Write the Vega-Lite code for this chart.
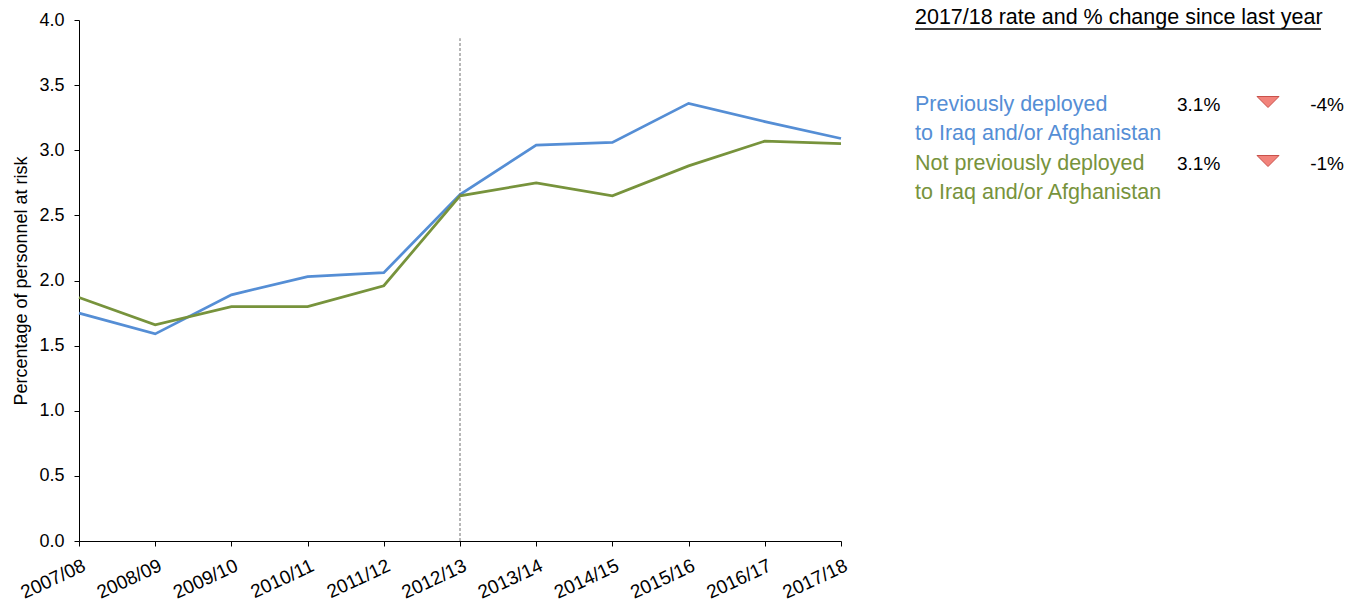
{
  "$schema": "https://vega.github.io/schema/vega-lite/v6.json",
  "background": "white",
  "padding": {"left": 12, "top": 7, "right": 5, "bottom": 5},
  "config": {
    "view": {"stroke": null},
    "font": "Liberation Sans",
    "concat": {"spacing": 63}
  },
  "datasets": {
    "series": [
      {"year": "2007/08", "group": "Previously deployed", "value": 1.75},
      {"year": "2008/09", "group": "Previously deployed", "value": 1.59},
      {"year": "2009/10", "group": "Previously deployed", "value": 1.89},
      {"year": "2010/11", "group": "Previously deployed", "value": 2.03},
      {"year": "2011/12", "group": "Previously deployed", "value": 2.06},
      {"year": "2012/13", "group": "Previously deployed", "value": 2.66},
      {"year": "2013/14", "group": "Previously deployed", "value": 3.04},
      {"year": "2014/15", "group": "Previously deployed", "value": 3.06},
      {"year": "2015/16", "group": "Previously deployed", "value": 3.36},
      {"year": "2016/17", "group": "Previously deployed", "value": 3.22},
      {"year": "2017/18", "group": "Previously deployed", "value": 3.09},
      {"year": "2007/08", "group": "Not previously deployed", "value": 1.87},
      {"year": "2008/09", "group": "Not previously deployed", "value": 1.66},
      {"year": "2009/10", "group": "Not previously deployed", "value": 1.80},
      {"year": "2010/11", "group": "Not previously deployed", "value": 1.80},
      {"year": "2011/12", "group": "Not previously deployed", "value": 1.96},
      {"year": "2012/13", "group": "Not previously deployed", "value": 2.65},
      {"year": "2013/14", "group": "Not previously deployed", "value": 2.75},
      {"year": "2014/15", "group": "Not previously deployed", "value": 2.65},
      {"year": "2015/16", "group": "Not previously deployed", "value": 2.88},
      {"year": "2016/17", "group": "Not previously deployed", "value": 3.07},
      {"year": "2017/18", "group": "Not previously deployed", "value": 3.05}
    ],
    "marker": [{"year": "2012/13", "lo": 0, "hi": 3.86}],
    "legend": [
      {"row": "r1", "group": "Previously deployed", "label": "Previously deployed\nto Iraq and/or Afghanistan", "rate": "3.1%", "change": "-4%"},
      {"row": "r2", "group": "Not previously deployed", "label": "Not previously deployed\nto Iraq and/or Afghanistan", "rate": "3.1%", "change": "-1%"}
    ]
  },
  "hconcat": [
    {
      "width": 762,
      "height": 521,
      "layer": [
        {
          "data": {"name": "series"},
          "mark": {"type": "line", "strokeWidth": 2.75},
          "encoding": {
            "x": {
              "field": "year", "type": "ordinal",
              "scale": {"type": "point", "padding": 0},
              "axis": {
                "title": null, "labelAngle": -25, "labelFontSize": 19, "labelColor": "black",
                "domainColor": "black", "tickColor": "black", "tickSize": 5, "labelPadding": 10, "labelOffset": 1, "grid": false
              }
            },
            "y": {
              "field": "value", "type": "quantitative",
              "scale": {"domain": [0, 4], "nice": false},
              "axis": {
                "title": "Percentage of personnel at risk", "titleFontSize": 18, "titleFontWeight": "normal", "titleColor": "black", "titlePadding": 8,
                "values": [0, 0.5, 1, 1.5, 2, 2.5, 3, 3.5, 4], "format": ".1f",
                "labelFontSize": 18, "labelColor": "black", "labelPadding": 10,
                "domainColor": "black", "tickColor": "black", "tickSize": 5, "grid": false
              }
            },
            "color": {
              "field": "group", "type": "nominal",
              "scale": {"domain": ["Previously deployed", "Not previously deployed"], "range": ["#558ED5", "#77933C"]},
              "legend": null
            }
          }
        },
        {
          "data": {"name": "marker"},
          "mark": {"type": "rule", "color": "#707070", "strokeDash": [3, 2], "strokeWidth": 1},
          "encoding": {
            "x": {"field": "year", "type": "ordinal"},
            "y": {"field": "lo", "type": "quantitative"},
            "y2": {"field": "hi"}
          }
        }
      ]
    },
    {
      "width": 429,
      "height": 200,
      "data": {"name": "legend"},
      "layer": [
        {
          "mark": {"type": "text", "align": "left", "baseline": "alphabetic", "fontSize": 21.5, "lineBreak": "\n", "lineHeight": 28.5},
          "encoding": {
            "x": {"datum": "label", "type": "nominal", "scale": {"type": "point", "padding": 0, "domain": ["label", "rate", "arrow", "change"]}, "axis": null},
            "y": {"field": "row", "type": "ordinal", "scale": {"type": "point", "padding": 0, "domain": ["r1", "r2"], "range": [91, 150]}, "axis": null},
            "text": {"field": "label"},
            "color": {"field": "group", "type": "nominal", "scale": {"domain": ["Previously deployed", "Not previously deployed"], "range": ["#558ED5", "#77933C"]}, "legend": null}
          }
        },
        {
          "mark": {"type": "text", "align": "left", "baseline": "alphabetic", "fontSize": 19, "dx": 119, "color": "black"},
          "encoding": {
            "x": {"datum": "rate", "type": "nominal"},
            "y": {"field": "row", "type": "ordinal"},
            "text": {"field": "rate"}
          }
        },
        {
          "mark": {"type": "point", "shape": "M-1,-0.5L1,-0.5L0,0.5Z", "size": 484, "filled": true, "fill": "#F2837B", "stroke": "#C9514A", "strokeWidth": 1, "opacity": 1, "xOffset": 67, "yOffset": -9},
          "encoding": {
            "x": {"datum": "arrow", "type": "nominal"},
            "y": {"field": "row", "type": "ordinal"}
          }
        },
        {
          "mark": {"type": "text", "align": "right", "baseline": "alphabetic", "fontSize": 19, "color": "black"},
          "encoding": {
            "x": {"datum": "change", "type": "nominal"},
            "y": {"field": "row", "type": "ordinal"},
            "text": {"field": "change"}
          }
        },
        {
          "data": {"values": [{"title": "2017/18 rate and % change since last year"}]},
          "mark": {"type": "text", "align": "left", "baseline": "alphabetic", "fontSize": 21.5, "color": "black", "yOffset": -87},
          "encoding": {
            "x": {"datum": "label", "type": "nominal"},
            "y": {"datum": "r1", "type": "ordinal"},
            "text": {"field": "title"}
          }
        },
        {
          "data": {"values": [{"title": "underline"}]},
          "mark": {"type": "rule", "color": "black", "strokeWidth": 1.5, "yOffset": -82, "x2Offset": -23},
          "encoding": {
            "x": {"datum": "label", "type": "nominal"},
            "x2": {"datum": "change"},
            "y": {"datum": "r1", "type": "ordinal"}
          }
        }
      ]
    }
  ]
}
